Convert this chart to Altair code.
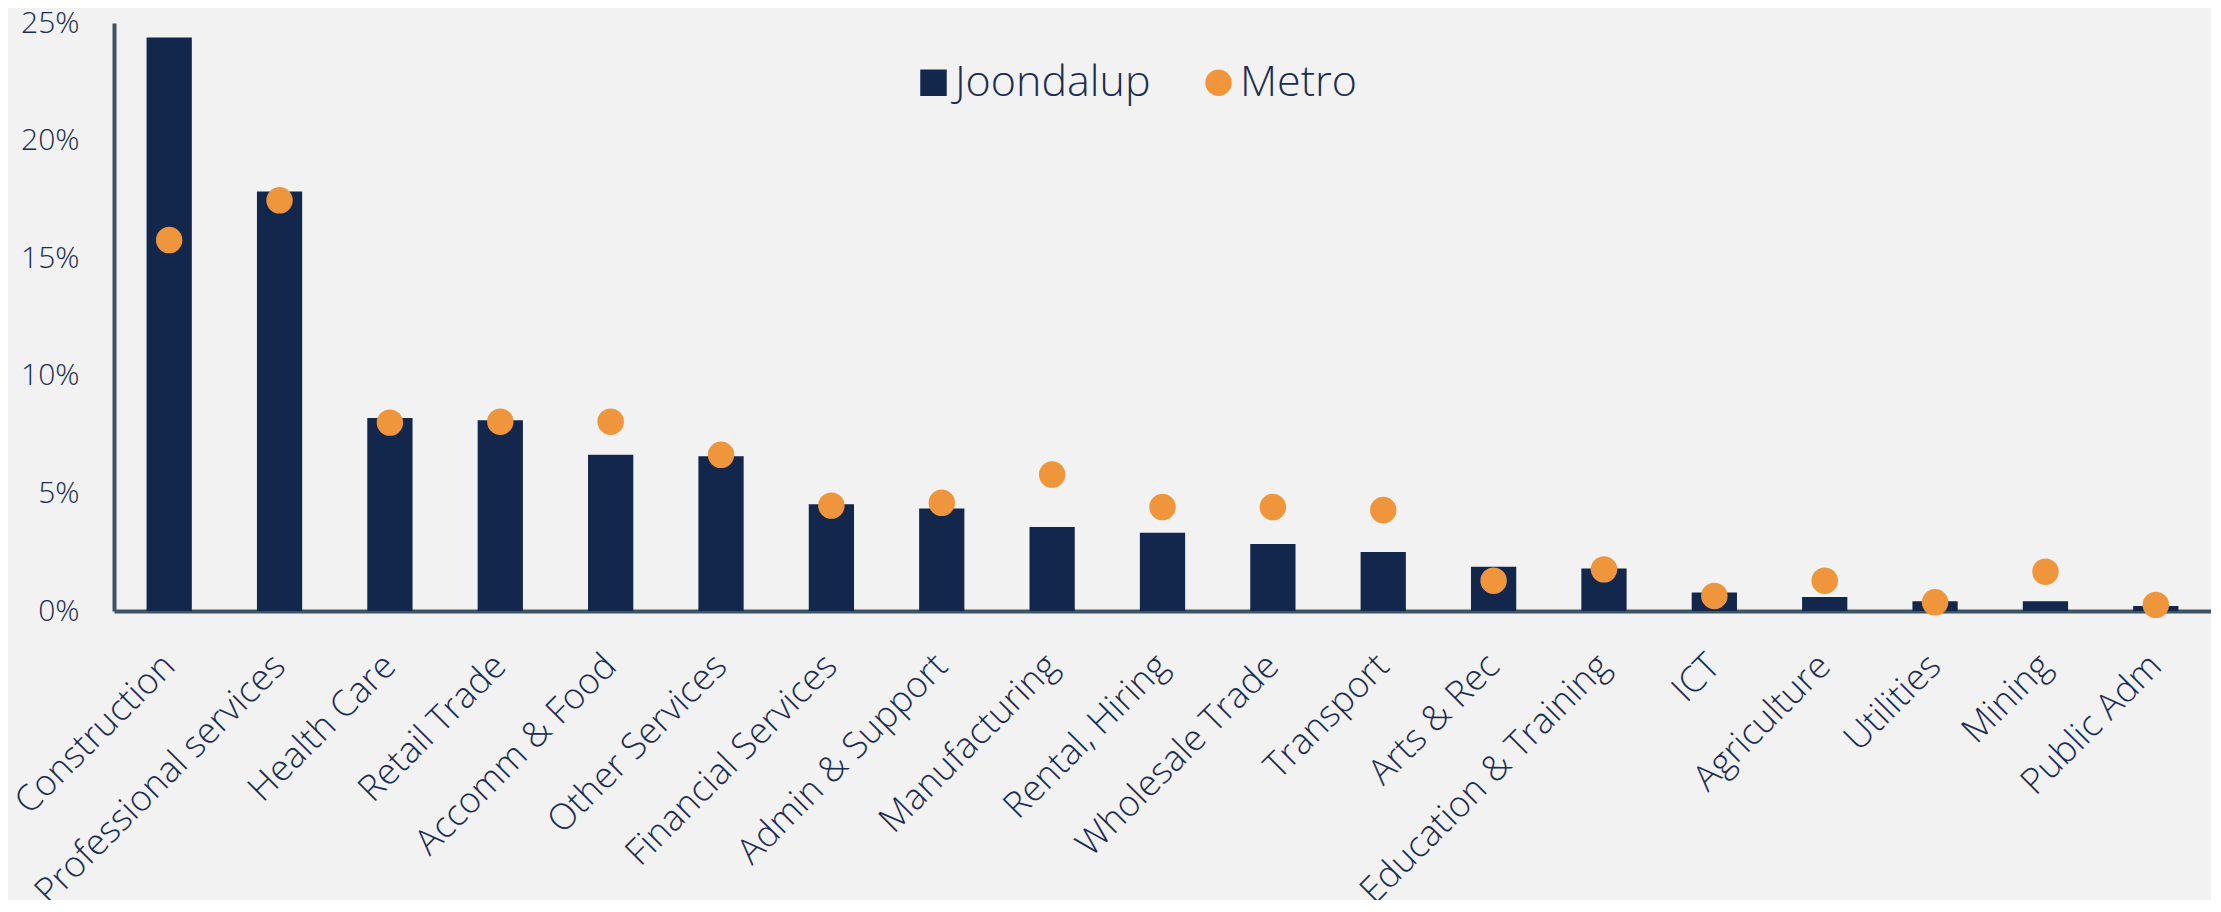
import altair as alt
import pandas as pd

categories = ["Construction", "Professional services", "Health Care", "Retail Trade",
              "Accomm & Food", "Other Services", "Financial Services", "Admin & Support",
              "Manufacturing", "Rental, Hiring", "Wholesale Trade", "Transport",
              "Arts & Rec", "Education & Training", "ICT", "Agriculture", "Utilities",
              "Mining", "Public Adm"]
joondalup = [24.38, 17.84, 8.21, 8.11, 6.64, 6.58, 4.54, 4.36, 3.57, 3.33, 2.85, 2.51,
             1.88, 1.81, 0.79, 0.60, 0.41, 0.41, 0.21]
metro = [15.77, 17.46, 8.01, 8.05, 8.05, 6.64, 4.48, 4.60, 5.80, 4.42, 4.42, 4.29,
         1.29, 1.77, 0.64, 1.29, 0.37, 1.67, 0.26]
y_ticks = [0, 5, 10, 15, 20, 25]

NAVY = "#13264b"
ORANGE = "#ef963c"
AXIS = "#3e5464"
TEXT = "#1c2c52"
FONT = "Open Sans"

df = pd.DataFrame({"category": categories, "Joondalup": joondalup, "Metro": metro})
long = df.melt(id_vars="category", var_name="series", value_name="value")

x = alt.X("category:N", sort=categories, title=None,
          scale=alt.Scale(paddingInner=0.59, paddingOuter=0.295),
          axis=alt.Axis(labelAngle=-45, labelAlign="right", labelBaseline="middle",
                        labelFontSize=36, labelPadding=49, ticks=False,
                        labelColor=TEXT, labelFont=FONT, labelFontWeight=300,
                        domainColor=AXIS, domainWidth=4, labelLimit=600))
y = alt.Y("value:Q", title=None,
          scale=alt.Scale(domain=[0, 25], nice=False),
          axis=alt.Axis(values=y_ticks, labelExpr="datum.value + '%'", grid=False,
                        ticks=False, labelFontSize=30, labelPadding=35,
                        labelColor=TEXT, labelFont=FONT, labelFontWeight=300,
                        domainColor=AXIS, domainWidth=4))

legend_kw = dict(title=None, orient="none", direction="horizontal",
                 legendX=798, legendY=38, labelFontSize=43, labelLimit=500,
                 labelFont=FONT, labelFontWeight=300, labelColor=TEXT,
                 symbolSize=700, columnPadding=46, labelOffset=0,
                 symbolStrokeWidth=0)
color = alt.Color("series:N",
                  scale=alt.Scale(domain=["Joondalup", "Metro"], range=[NAVY, ORANGE]),
                  legend=alt.Legend(**legend_kw))
shape = alt.Shape("series:N",
                  scale=alt.Scale(domain=["Joondalup", "Metro"], range=["square", "circle"]),
                  legend=alt.Legend(**legend_kw))

bars = alt.Chart(long).transform_filter("datum.series == 'Joondalup'").mark_bar(
    color=NAVY).encode(x=x, y=y, color=color)
dots = alt.Chart(long).transform_filter("datum.series == 'Metro'").mark_point(
    filled=True, size=700, opacity=1).encode(x=x, y=y, color=color, shape=shape)

chart = alt.layer(bars, dots).properties(
    width=2097, height=588,
    autosize=alt.AutoSizeParams(type="none"),
    padding={"left": 106, "top": 15, "right": 0, "bottom": 289},
    background="#f1f2f1",
).configure_view(stroke=None)

chart.save("out.html", embed_options={"renderer": "svg", "actions": False})
